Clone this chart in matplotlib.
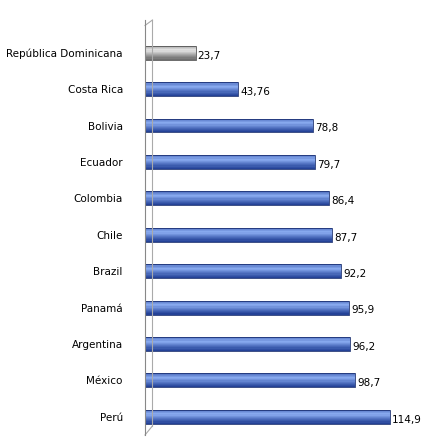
import matplotlib
matplotlib.use("Agg")
import matplotlib.pyplot as plt
import numpy as np

countries = ["República Dominicana","Costa Rica","Bolivia","Ecuador","Colombia","Chile",
             "Brazil","Panamá","Argentina","México","Perú"]
values = [23.7,43.76,78.8,79.7,86.4,87.7,92.2,95.9,96.2,98.7,114.9]
labels = ["23,7","43,76","78,8","79,7","86,4","87,7","92,2","95,9","96,2","98,7","114,9"]

fig = plt.figure(figsize=(4.35,4.45), dpi=100)
ax = fig.add_axes([145/435, 10/445, 260/435, 415/445])
y = np.arange(len(countries))
h = 0.38
n = 12
for i,(v,c) in enumerate(zip(values,countries)):
    if i == 0:
        base = np.array([0.55,0.55,0.55]); light = np.array([0.9,0.9,0.9])
    else:
        base = np.array([0.18,0.33,0.75]); light = np.array([0.55,0.68,0.95])
    for k in range(n):
        t = k/(n-1)
        f = 1-abs(t-0.3)/0.7
        col = base*(1-f)+light*f
        col = np.clip(col*(0.7+0.3*(1-abs(t-0.3))),0,1)
        ax.barh(y[i]-h/2+h*(k+0.5)/n, v, height=h/n, color=col, edgecolor='none', left=0)
    ax.barh(y[i], v, height=h, color='none', edgecolor=base*0.6, linewidth=0.6)
    ax.text(v+1, y[i]+0.08, labels[i], va='center', ha='left', fontsize=7.5)
ax.set_yticks(y)
ax.set_yticklabels(countries, fontsize=7.5)
ax.tick_params(axis='y', length=0, pad=16)
ax.set_xticks([])
ax.set_xlim(0,122)
ax.set_ylim(len(countries)-0.5, -0.9)
for s in ['top','right','bottom']:
    ax.spines[s].set_visible(False)
ax.spines['left'].set_color('#888888')
# wall
ax.plot([3.5,3.5],[-0.9,len(countries)-0.75], color='#aaaaaa', lw=0.8, clip_on=False)
ax.plot([0,3.5],[len(countries)-0.5,len(countries)-0.75], color='#aaaaaa', lw=0.8, clip_on=False)
ax.plot([0,3.5],[-0.75,-0.9], color='#aaaaaa', lw=0.8, clip_on=False)
fig.savefig("out.png", dpi=100)
